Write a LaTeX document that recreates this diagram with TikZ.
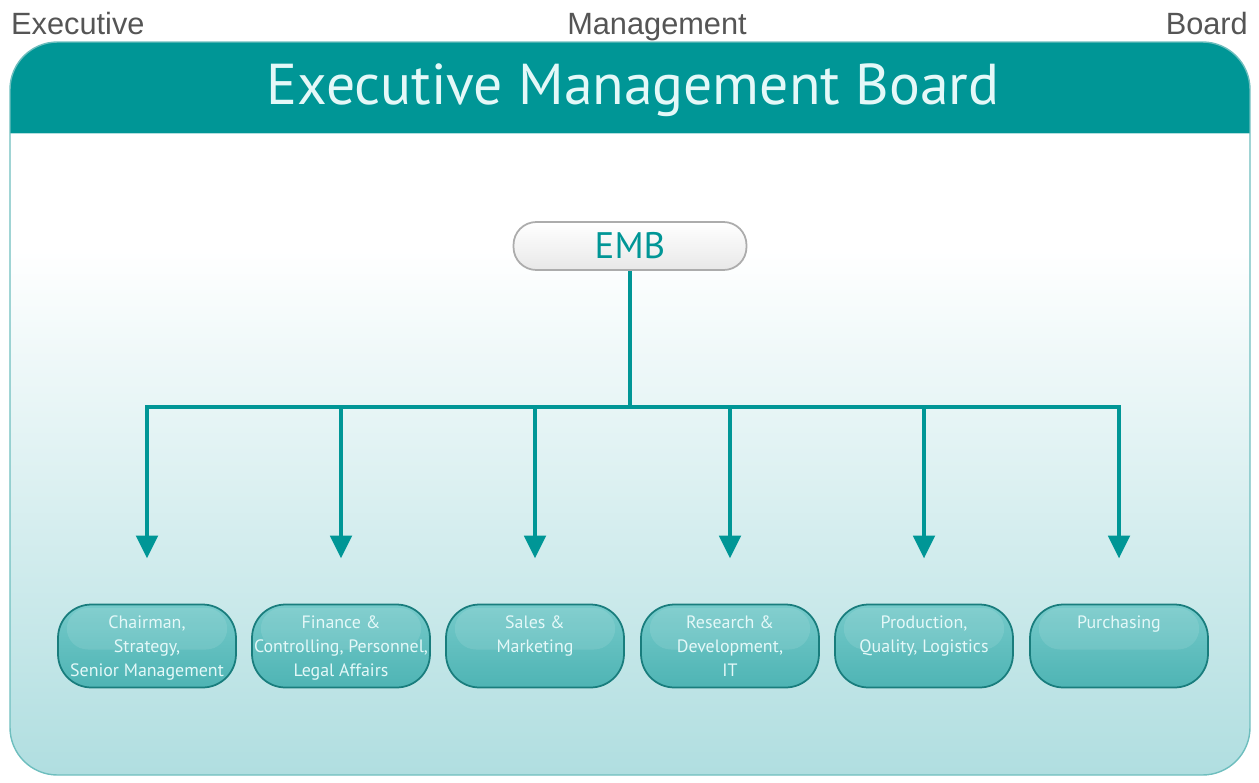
\documentclass[tikz,border=0pt]{standalone}
\usepackage{fontspec}
\setmainfont{Liberation Sans}
\newfontfamily\myriad{PT Sans}
\usetikzlibrary{arrows.meta,positioning}
\definecolor{embteal}{RGB}{0,150,150}
\definecolor{titlewhite}{RGB}{228,248,248}
\definecolor{panelmid}{RGB}{208,236,237}
\definecolor{panelbot}{RGB}{176,222,224}
\definecolor{panelline}{RGB}{110,190,190}
\definecolor{boxtop}{RGB}{118,202,202}
\definecolor{boxbot}{RGB}{78,180,180}
\definecolor{boxline}{RGB}{25,125,125}
\definecolor{captiongray}{RGB}{85,85,85}
\newcommand\boxtxt[1]{\parbox[c][1.5cm][t]{3.5cm}{\centering\vspace*{0.15cm}#1}}
\tikzset{
  caption/.style={anchor=base, text=captiongray, font=\fontsize{17.5}{21}\selectfont},
  emb/.style={rounded corners=13pt, minimum width=4.66cm, minimum height=0.96cm, inner sep=0pt,
    top color=white, bottom color=gray!18, draw=gray!65, line width=1pt,
    text=embteal, font=\myriad\fontsize{21}{24}\selectfont},
  unit/.style={rounded corners=19pt, minimum width=3.56cm, minimum height=1.66cm, inner sep=0pt,
    top color=boxtop, bottom color=boxbot, draw=boxline, line width=1pt,
    text=titlewhite, font=\myriad\fontsize{10.2}{13.6}\selectfont,
    path picture={\fill[white,opacity=0.1,rounded corners=12pt]
      ([xshift=5pt,yshift=-2pt]path picture bounding box.north west) rectangle
      ([xshift=-5pt,yshift=-0.9cm]path picture bounding box.north east);}},
  conn/.style={embteal, line width=2.8pt},
}
\begin{document}
\begin{tikzpicture}[x=0.02cm,y=-0.02cm,>={Triangle[width=0.42cm,length=0.46cm]}, line join=round]
\useasboundingbox (0,0) rectangle (1259,782);
\node[caption, anchor=base west] (capl) at (5,34) {Executive};
\node[caption] (capm) at (657,34) {Management};
\node[caption, anchor=base east] (capr) at (1254,34) {Board};
% panel
\begin{scope}
  \clip[rounded corners=0.95cm] (10,42) rectangle (1250,775);
  \fill[white] (10,42) rectangle (1250,775);
  \shade[top color=white, middle color=panelmid, bottom color=panelbot] (10,250) rectangle (1250,775);
  \fill[embteal] (10,42) rectangle (1250,133);
  \draw[white!70!embteal, line width=1pt] (10,133.5) -- (1250,133.5);
\end{scope}
\draw[panelline, line width=0.8pt, rounded corners=0.95cm] (10,42) rectangle (1250,775);
\node[text=titlewhite, font=\myriad\fontsize{32.8}{38}\selectfont] (title) at (633,90) {Executive Management Board};
% chart
\node[emb] (emb) at (630,246) {EMB};
\coordinate (bus) at (630,407);
\foreach \i/\xx/\txt in {1/147/{Chairman,\\Strategy,\\Senior Management},
    2/341/{Finance \&\\Controlling, Personnel,\\Legal Affairs},
    3/535/{Sales \&\\Marketing},
    4/730/{Research \&\\Development,\\IT},
    5/924/{Production,\\Quality, Logistics},
    6/1119/{Purchasing}}
  \node[unit] (b\i) at (\xx,646) {\boxtxt{\txt}};
\draw[conn] (emb.south) -- (bus);
\draw[conn, line cap=rect] (bus -| b1.north) -- (bus -| b6.north);
\foreach \i in {1,...,6}
  \draw[conn, ->, shorten >=0.9cm] (bus -| b\i.north) -- (b\i.north);
\end{tikzpicture}
\end{document}
